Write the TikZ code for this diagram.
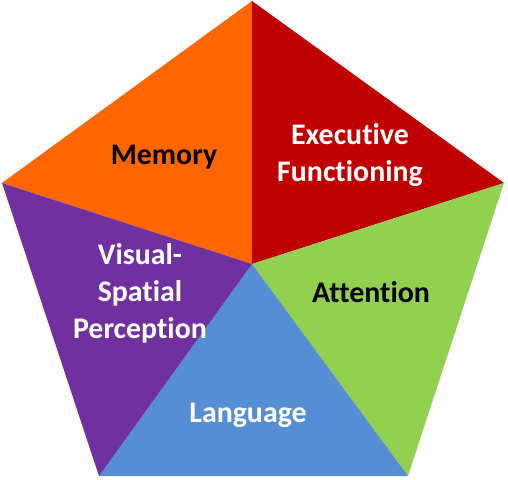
\documentclass[tikz,border=0pt]{standalone}
\usepackage{fontspec}
\setmainfont{Carlito}[Ligatures=NoCommon]
\usepackage{xcolor}

\definecolor{memorange}{HTML}{FF6600}
\definecolor{execred}{HTML}{C00000}
\definecolor{attgreen}{HTML}{92D050}
\definecolor{langblue}{HTML}{558ED5}
\definecolor{vispurple}{HTML}{7030A0}

\begin{document}
\begin{tikzpicture}[x=0.02cm, y=-0.02cm,
  lbl/.style={font=\fontsize{17}{21}\selectfont\bfseries, align=center}]

\useasboundingbox (0,0) rectangle (508,480);

% corners of the pentagon and its centre
\coordinate (top) at (252,1);
\coordinate (rgt) at (504,183);
\coordinate (brt) at (408,476);
\coordinate (blf) at (99,476);
\coordinate (lft) at (2,183);
\coordinate (mid) at (252,264);

% the five sectors
\fill[memorange] (mid) -- (lft) -- (top) -- cycle;
\fill[execred] (mid) -- (top) -- (rgt) -- cycle;
\fill[attgreen] (mid) -- (rgt) -- (brt) -- cycle;
\fill[langblue] (mid) -- (brt) -- (blf) -- cycle;
\fill[vispurple] (mid) -- (blf) -- (lft) -- cycle;

% labels
\node[lbl, text=black] (memory) at (164,157) {Memory};
\node[lbl, text=white] (exec) at (350,155) {Executive\\Functioning};
\node[lbl, text=black] (attention) at (371,292) {Attention};
\node[lbl, text=white] (visual) at (140,293) {Visual-\\Spatial\\Perception};
\node[lbl, text=white] (language) at (248,415) {Language};

\end{tikzpicture}
\end{document}
